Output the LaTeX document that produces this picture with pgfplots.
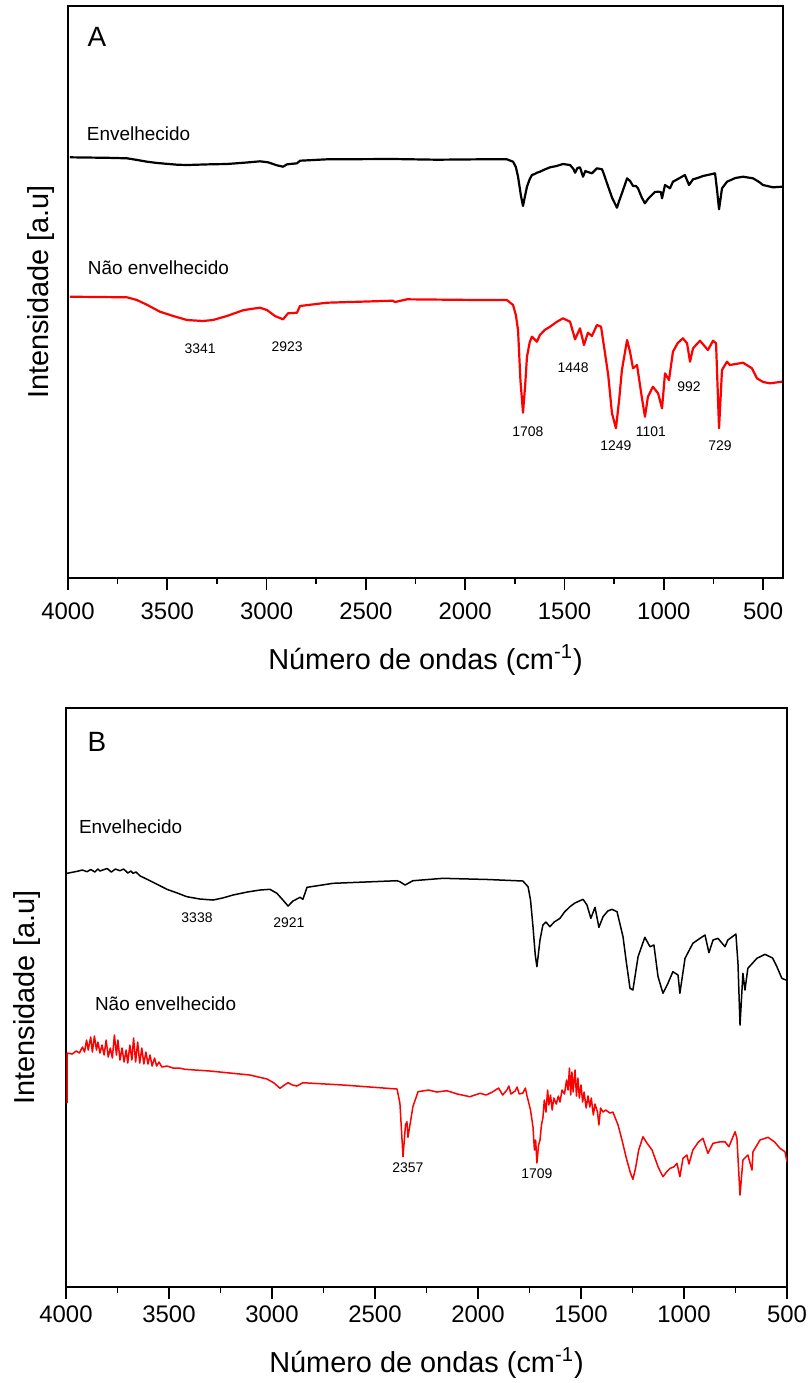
\documentclass[border=0pt]{standalone}
\usepackage{fontspec}
\setmainfont{Liberation Sans}
\usepackage{pgfplots}
\usepackage{pgfplotstable}
\pgfplotsset{compat=1.18}
\definecolor{spred}{RGB}{255,0,0}

% y values are read as positions in the picture (arbitrary units, reversed axis)
\pgfplotstableread{
w y
3990 157.3
3800 157.8
3703 158.3
3650 160
3602 161.7
3550 163
3451 164.7
3400 165
3285 164.3
3200 164
3100 162.5
3033 161.3
2993 162.3
2948 165.3
2917 166.7
2897 164.3
2847 163.3
2832 160.7
2696 159.3
2364 159
2142 159.7
1926 159.3
1790 159.3
1759 161.7
1745 167
1734 176.7
1720 195
1709 206
1700 197
1689 186.7
1675 179
1664 175
1650 174
1639 172.7
1624 171.7
1600 169.5
1573 167.3
1540 166
1508 164
1472 165
1455 169
1447 172.7
1435 168
1422 167.3
1407 176.7
1395 171
1387 171.7
1362 173.3
1337 168.3
1311 169.3
1300 175
1286 183.3
1260 198
1236 207.7
1225 201
1211 193.3
1185 178.3
1170 181
1155 186
1140 186
1130 188.3
1110 198
1095 203.3
1080 199
1060 195
1045 192
1029 191.7
1015 192
1009 198.3
994 185
969 188.3
954 181.7
920 178
894 175
873 185
853 179.3
830 178
803 176
757 174
742 173.3
732 190
722 209.3
707 188.3
682 181.7
640 178
601 176.7
551 178.3
520 182
501 185
450 187.3
405 186.7
}\blackA

\pgfplotstableread{
w y
3990 296.7
3703 297.3
3653 300
3600 305
3537 311.7
3470 316
3401 320
3360 320.5
3320 321
3270 320
3200 316
3119 310.3
3080 309
3033 307.7
2998 310
2958 316
2917 319.3
2892 313.3
2847 312.7
2832 306
2696 302.7
2364 300.7
2354 302
2293 299.3
1926 300
1790 300
1759 305
1745 315
1734 330
1722 380
1709 412.7
1698 385
1689 356.7
1675 342
1664 336.7
1639 341.7
1624 335
1600 330
1573 326.7
1540 322
1508 318.3
1472 321.7
1447 339.3
1422 328.3
1402 345
1382 332.7
1362 336
1337 325
1316 326.7
1296 353.3
1280 375
1261 413.3
1241 428.3
1225 400
1211 370
1185 340
1170 352
1155 368.3
1135 365
1110 398.3
1095 416.7
1080 396.7
1055 386.7
1029 393.3
1009 408.3
994 373.3
974 380
954 351.7
930 343
904 338.3
883 343.3
868 361.7
853 348.3
818 340.7
778 350
752 340.7
737 343.3
722 428.3
707 370
682 361.7
667 365
601 362.7
556 368.3
531 378.3
500 382
465 383.3
405 381.7
}\redA

\pgfplotstableread{
w y
3995 873.3
3950 871.5
3920 870
3898 871.7
3880 869.5
3860 872
3845 869
3835 871
3815 869.5
3800 868.5
3780 872
3760 869
3738 870.7
3720 869
3700 873
3685 871
3675 873.3
3660 872
3640 876
3626 877.3
3570 883
3510 889.3
3460 893
3413 896.7
3350 899
3286 900
3240 898
3189 895
3120 892
3058 890
3010 889.3
2976 893.3
2947 900
2922 906
2898 901
2864 897.3
2850 899.3
2830 887.3
2704 883.3
2393 880.7
2379 881.7
2354 885
2316 880.7
2170 878.3
1950 879.5
1782 881
1757 886.7
1745 900
1733 926.7
1722 955
1714 966.7
1699 940
1685 925
1670 922
1651 926.7
1630 922
1602 918.3
1580 912
1554 906.7
1530 903
1490 899.3
1471 905
1452 918.3
1432 907.3
1413 927.3
1393 916.7
1370 911
1350 909.3
1325 911.7
1296 936.7
1280 962
1262 988.3
1248 990
1223 956.7
1190 937.3
1165 946.7
1146 945
1126 976.7
1102 993.3
1078 983.3
1054 971.7
1029 975
1020 993.3
995 958.3
957 943.3
920 938
898 935
879 952.7
859 940
835 938.3
801 946.7
787 940
748 934
738 963.3
728 1025
714 973.3
704 990
690 968.3
646 958.3
607 954.3
570 958
549 966.7
525 978.3
505 980
}\blackB

\pgfplotstableread{
w y
3995 1103
3994 1053
3970 1054
3950 1051
3935 1053
3920 1047
3910 1052
3900 1040
3892 1050
3880 1037
3872 1052
3862 1036
3852 1050
3845 1042
3835 1053
3825 1045
3815 1055
3805 1040
3795 1057
3785 1048
3775 1058
3765 1035
3755 1055
3748 1040
3738 1060
3728 1048
3718 1062
3708 1050
3700 1063
3690 1045
3680 1060
3672 1038
3662 1062
3652 1042
3642 1063
3632 1048
3622 1064
3612 1052
3602 1064
3592 1055
3582 1066
3570 1058
3560 1066
3548 1062
3535 1067
3510 1066
3480 1068
3450 1068
3422 1069.3
3301 1071
3107 1075
3024 1079
2990 1083
2961 1088.3
2940 1085
2922 1082.7
2900 1085
2879 1086
2850 1082.7
2655 1085
2393 1089
2379 1103.3
2370 1135
2364 1156.7
2352 1125
2345 1121.7
2340 1137.3
2316 1106.7
2291 1091.7
2240 1090
2200 1092
2151 1090.7
2100 1094
2039 1096.7
1990 1093.3
1960 1095
1930 1092
1900 1088
1880 1095
1860 1090
1850 1086
1840 1094
1820 1091
1810 1087
1800 1094
1782 1093
1770 1088
1762 1096
1757 1100
1745 1110
1733 1127
1726 1150
1720 1140
1714 1163
1706 1145
1699 1140
1692 1125
1685 1118
1678 1100
1670 1112
1662 1090
1656 1105
1648 1095
1640 1110
1632 1098
1620 1104
1610 1096
1602 1102
1592 1090
1580 1094
1570 1080
1563 1090
1556 1068
1550 1095
1544 1072
1538 1092
1529 1070
1522 1096
1515 1078
1508 1098
1500 1085
1492 1102
1485 1092
1475 1108
1466 1096
1457 1107
1450 1098
1440 1115
1432 1104
1420 1112
1413 1125
1405 1108
1393 1112
1380 1110
1360 1113
1345 1112
1320 1125
1301 1140
1280 1158
1260 1173
1248 1179.3
1235 1168
1220 1150
1199 1136.7
1180 1143
1155 1150
1126 1166.7
1102 1176.7
1085 1172
1068 1168.3
1050 1167
1034 1163.3
1020 1176.7
1005 1158.3
986 1155
976 1164
957 1150
930 1142
908 1138.3
884 1153.3
859 1143.3
830 1142
801 1141.7
782 1146.7
752 1131.7
743 1138.3
736 1165
728 1195
714 1160
690 1155
670 1170
665 1151.7
631 1140
592 1137.3
560 1142
534 1148.3
510 1151.7
500 1161.7
}\redB

\tikzset{
  ann/.style={font=\fontsize{9.5}{11}\selectfont},
  pk/.style={font=\fontsize{7}{8}\selectfont},
}

\pgfplotsset{
  ftir/.style={
    scale only axis,
    x dir=reverse, y dir=reverse,
    axis line style={line width=1bp},
    xtick={500,1000,...,4000},
    minor x tick num=1,
    xtick pos=bottom,
    ytick=\empty,
    tick align=outside,
    major tick length=6bp,
    minor tick length=3bp,
    every tick/.style={line width=0.8bp,black},
    /pgf/number format/assume math mode=true,
    /pgf/number format/1000 sep={},
    xticklabel style={font=\fontsize{12}{13}\selectfont},
    xlabel={Número de ondas (cm\textsuperscript{-1})},
    ylabel={Intensidade [a.u]},
    label style={font=\fontsize{14.5}{16}\selectfont},
    xlabel style={at={(axis description cs:0.5,0)},anchor=center,yshift=-41bp},
  },
}

\begin{document}
\begin{tikzpicture}
\useasboundingbox (0,0) rectangle (404bp,-691.5bp);

\begin{axis}[ftir,
  at={(34bp,-3bp)}, anchor=north west,
  width=357.5bp, height=286bp,
  xmin=400, xmax=4000, ymin=6, ymax=578,
  xticklabel style={yshift=-3bp},
  ylabel style={at={(axis description cs:-0.038,0.5)},anchor=center},
]
\addplot[black,line width=1.1bp,line join=round] table[x=w,y=y] {\blackA};
\addplot[spred,line width=1.1bp,line join=round] table[x=w,y=y] {\redA};
\node[font=\fontsize{14}{16}\selectfont] at (axis cs:3854,37) {A};
\node[ann,anchor=west] at (axis cs:3940,134) {Envelhecido};
\node[ann,anchor=west] at (axis cs:3935,268) {Não envelhecido};
\node[pk] at (axis cs:3335,349) {3341};
\node[pk] at (axis cs:2897,347) {2923};
\node[pk] at (axis cs:1684,432) {1708};
\node[pk] at (axis cs:1457,368) {1448};
\node[pk] at (axis cs:1241,446) {1249};
\node[pk] at (axis cs:1065,432) {1101};
\node[pk] at (axis cs:873,387) {992};
\node[pk] at (axis cs:717,446) {729};
\end{axis}

\begin{axis}[ftir,
  at={(33bp,-354bp)}, anchor=north west,
  width=360.5bp, height=289.5bp,
  xmin=500, xmax=4000, ymin=708, ymax=1287,
  ylabel style={at={(axis description cs:-0.054,0.5)},anchor=center},
  xlabel style={yshift=3bp},
]
\addplot[black,line width=0.75bp,line join=round] table[x=w,y=y] {\blackB};
\addplot[spred,line width=0.75bp,line join=round] table[x=w,y=y] {\redB};
\node[font=\fontsize{14}{16}\selectfont] at (axis cs:3850,742) {B};
\node[ann,anchor=west] at (axis cs:3971,827) {Envelhecido};
\node[ann,anchor=west] at (axis cs:3893,1004) {Não envelhecido};
\node[pk] at (axis cs:3364,918) {3338};
\node[pk] at (axis cs:2918,923) {2921};
\node[pk] at (axis cs:2340,1168) {2357};
\node[pk] at (axis cs:1714,1174) {1709};
\end{axis}
\end{tikzpicture}
\end{document}
